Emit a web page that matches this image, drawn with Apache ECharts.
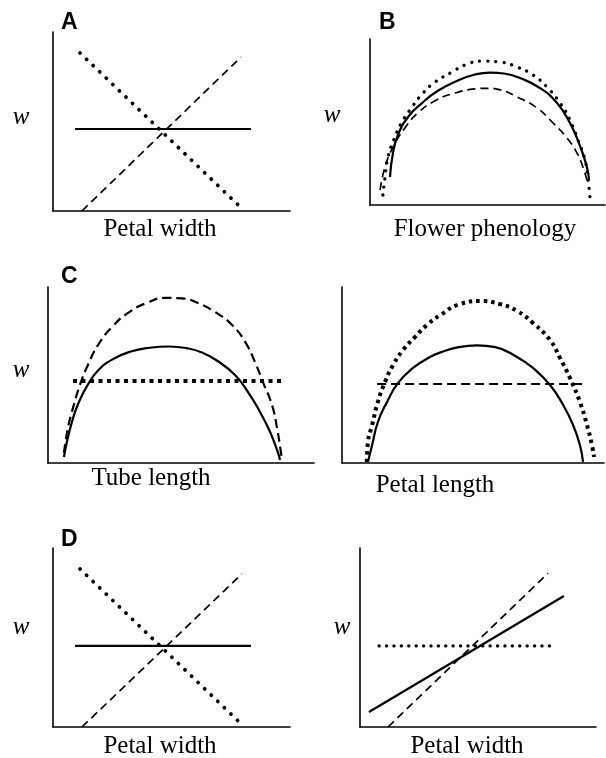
<!DOCTYPE html>
<html>
<head>
<meta charset="utf-8">
<script src="https://cdn.jsdelivr.net/npm/echarts@6/dist/echarts.min.js"></script>
<style>html,body{margin:0;padding:0;background:#fff}#c{width:606px;height:758px}</style>
</head>
<body>
<div id="c"></div>
<script>
// ---- Data (axis units 0..100 in every panel) ----
const panelLetters = ['A', 'B', 'C', 'D'];
const xLabels = ['Petal width', 'Flower phenology', 'Tube length', 'Petal length', 'Petal width', 'Petal width'];
const yLabel = 'w';

// Panel A
const aDotted = [[11.4, 88.3], [78.1, 3.4]];
const aDashed = [[12.2, 0], [79.3, 86.0]];
const aSolid = [[9.3, 45.8], [83.5, 45.8]];

// Panel B
const bSolid = [[8.5,16.9],[9.8,31.5],[11.9,42.2],[16.2,53.0],[22.1,61.4],[28.9,68.8],[37.4,75.0],[44.7,78.6],[51.1,79.8],[57.0,79.2],[63.8,76.5],[72.3,70.5],[79.6,61.4],[85.1,49.4],[89.4,35.5],[92.3,22.9],[93.2,15.1]];
const bDotted = [[5.5,6.0],[6.4,16.9],[7.7,28.9],[10.6,41.0],[13.6,50.0],[17.9,59.0],[22.6,67.5],[27.7,74.1],[34.9,80.1],[40.4,84.3],[47.7,86.7],[55.3,86.1],[62.6,83.1],[69.4,78.3],[75.3,71.1],[80.9,61.4],[85.1,51.2],[88.5,39.2],[91.5,27.1],[92.8,15.1],[93.6,4.8]];
const bDashed = [[4.3,9.0],[6.4,23.0],[9.8,34.9],[14.9,46.5],[20.4,55.5],[27.7,62.8],[36.2,67.5],[44.7,69.9],[50.0,70.3],[55.0,69.5],[62.6,65.1],[71.1,58.4],[77.9,49.4],[83.8,40.4],[88.1,31.3],[90.6,22.9],[92.3,15.1]];

// Panel C (tube length)
const c1Solid = [[6.0,3.4],[7.1,11.9],[9.0,23.3],[11.3,33.5],[14.7,43.8],[18.8,52.5],[24.4,59.0],[30.8,63.2],[38.3,65.5],[45.5,66.2],[52.0,65.3],[57.9,62.8],[63.9,57.8],[70.3,50.0],[75.2,40.3],[79.7,29.0],[83.5,17.6],[86.5,5.7],[87.2,1.7]];
const c1Dashed = [[6.0,5.7],[7.5,19.9],[9.4,31.3],[12.0,44.3],[15.0,55.7],[18.8,67.0],[24.1,77.3],[30.1,85.3],[37.2,91.0],[44.0,93.8],[50.4,93.5],[56.4,90.9],[62.8,85.8],[69.2,78.4],[74.1,68.8],[77.8,57.4],[80.8,46.0],[84.2,33.0],[86.1,19.9],[87.6,5.7],[88.0,1.7]];
const c1Dotted = [[9.4, 46.6], [88.3, 46.6]];

// Panel C (petal length)
const c2Solid = [[9.9,0.6],[11.5,10.2],[13.7,23.3],[17.2,34.7],[21.4,45.5],[27.1,54.0],[33.6,60.2],[38.0,63.0],[44.5,65.8],[51.5,66.8],[58.5,65.8],[66.8,60.2],[72.9,54.0],[79.4,44.3],[84.4,33.0],[88.2,21.6],[90.8,10.2],[92.0,0.6]];
const c2Dotted = [[9.5,0.6],[9.9,11.9],[11.5,21.6],[13.7,34.7],[16.4,46.0],[19.5,55.7],[23.3,64.2],[27.9,71.6],[32.4,78.4],[37.5,84.0],[45.0,90.3],[52.7,92.0],[60.3,90.3],[66.8,86.4],[72.9,79.5],[79.4,69.9],[83.2,59.7],[87.0,48.3],[90.8,34.7],[93.5,21.6],[95.4,10.2],[96.2,3.4]];
const c2Dashed = [[13.4, 44.9], [92.7, 44.9]];

// Panel D (left)
const d1Dotted = [[11.4, 88.3], [78.1, 3.4]];
const d1Dashed = [[12.2, 0], [79.7, 85.5]];
const d1Solid = [[9.3, 45.3], [83.5, 45.3]];

// Panel D (right)
const d2Dotted = [[8.1, 45.3], [82.6, 45.3]];
const d2Solid = [[3.8, 8.4], [86.4, 73.2]];
const d2Dashed = [[11.9, 0], [79.7, 86.0]];

// ---- Layout / styles ----
const grids = [
  {left: 53, top: 32, width: 237, height: 179},
  {left: 370, top: 39, width: 235, height: 166},
  {left: 48, top: 287, width: 266, height: 176},
  {left: 342, top: 287, width: 262, height: 176},
  {left: 53, top: 548, width: 237, height: 179},
  {left: 360, top: 548, width: 236, height: 179}
];

const S = {
  solid: {color: '#000', width: 2.2, type: 'solid'},
  dash: {color: '#000', width: 1.7, type: [8, 5]},
  dashBold: {color: '#000', width: 2.2, type: [9, 5]},
  dots: {color: '#000', width: 3.8, type: [0.1, 9], cap: 'round'},
  dotsB: {color: '#000', width: 3.3, type: [0.1, 8], cap: 'round'},
  dotsSmall: {color: '#000', width: 3.3, type: [0.1, 7.3], cap: 'round'},
  squares: {color: '#000', width: 4, type: [4, 4.5], cap: 'butt'},
  squaresArc: {color: '#000', width: 4, type: [3.5, 4], cap: 'butt'}
};

function ser(data, gi, style, smooth) {
  return {
    type: 'line', data: data, xAxisIndex: gi, yAxisIndex: gi,
    showSymbol: false, symbol: 'none', smooth: smooth ? 0.5 : false,
    lineStyle: style, silent: true, z: 3
  };
}

const axisLine = {show: true, onZero: false, lineStyle: {color: '#000', width: 1.6}};
const xAxes = grids.map((g, i) => ({type: 'value', gridIndex: i, min: 0, max: 100,
  axisLine: axisLine, axisTick: {show: false}, axisLabel: {show: false}, splitLine: {show: false}}));
const yAxes = grids.map((g, i) => ({type: 'value', gridIndex: i, min: 0, max: 100,
  axisLine: axisLine, axisTick: {show: false}, axisLabel: {show: false}, splitLine: {show: false}}));

const series = [
  ser(aDotted, 0, S.dots), ser(aDashed, 0, S.dash), ser(aSolid, 0, S.solid),
  ser(bDotted, 1, S.dotsB, true), ser(bDashed, 1, S.dash, true), ser(bSolid, 1, S.solid, true),
  ser(c1Dashed, 2, S.dashBold, true), ser(c1Solid, 2, S.solid, true), ser(c1Dotted, 2, S.squares),
  ser(c2Dotted, 3, S.squaresArc, true), ser(c2Solid, 3, S.solid, true), ser(c2Dashed, 3, S.dashBold),
  ser(d1Dotted, 4, S.dots), ser(d1Dashed, 4, S.dash), ser(d1Solid, 4, S.solid),
  ser(d2Dotted, 5, S.dotsSmall), ser(d2Dashed, 5, S.dash), ser(d2Solid, 5, S.solid)
];

function txt(text, x, y, font, align) {
  return {type: 'text', x: x, y: y, silent: true, z: 10,
    style: {text: text, font: font, fill: '#000', textAlign: align || 'center', align: align || 'center',
      textVerticalAlign: 'middle', verticalAlign: 'middle'}};
}
const letterFont = 'bold 23px "Liberation Sans", Arial, sans-serif';
const wFont = 'italic 25px "Liberation Serif", "Times New Roman", serif';
const labFont = '25px "Liberation Serif", "Times New Roman", serif';

const graphics = [
  txt(panelLetters[0], 61, 23, letterFont, 'left'),
  txt(panelLetters[1], 379, 23, letterFont, 'left'),
  txt(panelLetters[2], 61, 277, letterFont, 'left'),
  txt(panelLetters[3], 61, 540, letterFont, 'left'),
  txt(yLabel, 21, 117, wFont), txt(yLabel, 332, 115, wFont), txt(yLabel, 21, 370, wFont),
  txt(yLabel, 21, 627, wFont), txt(yLabel, 342, 627, wFont),
  txt(xLabels[0], 160, 229, labFont), txt(xLabels[1], 485, 229, labFont),
  txt(xLabels[2], 151, 478, labFont), txt(xLabels[3], 435, 485, labFont),
  txt(xLabels[4], 160, 746, labFont), txt(xLabels[5], 467, 746, labFont)
];

const chart = echarts.init(document.getElementById('c'), null, {renderer: 'canvas'});
chart.setOption({
  animation: false,
  backgroundColor: '#fff',
  grid: grids,
  xAxis: xAxes,
  yAxis: yAxes,
  series: series,
  graphic: graphics
});
</script>
</body>
</html>
